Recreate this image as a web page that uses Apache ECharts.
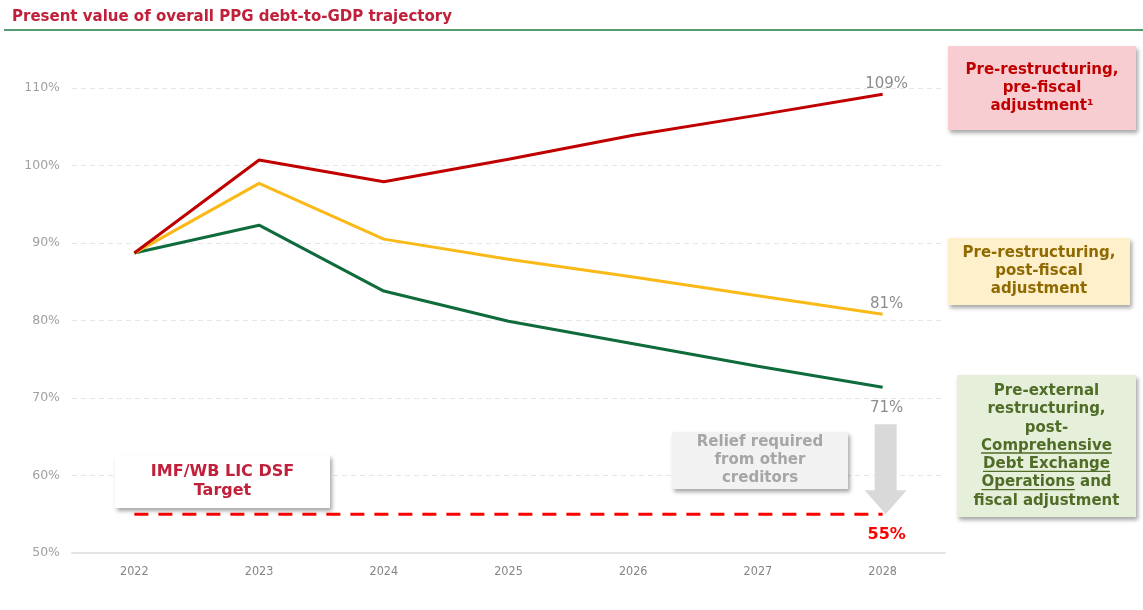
<!DOCTYPE html>
<html><head><meta charset="utf-8">
<script src="https://cdn.jsdelivr.net/npm/echarts@6/dist/echarts.min.js"></script>
<style>html,body{margin:0;padding:0;background:#fff}#c{width:1143px;height:610px}</style>
</head><body><div id="c"></div>
<script>
const years = ['2022','2023','2024','2025','2026','2027','2028'];
const preRestructPreFiscal = [88.7, 100.7, 97.9, 100.8, 103.9, 106.5, 109.2];
const preRestructPostFiscal = [88.7, 97.7, 90.5, 87.9, 85.6, 83.2, 80.8];
const postCDEOFiscal = [88.7, 92.3, 83.8, 79.9, 77.0, 74.1, 71.4];
const dsfTarget = [55, 55, 55, 55, 55, 55, 55];
const yTicks = {min: 50, max: 110, interval: 10};

const FONT = 'DejaVu Sans';
const chart = echarts.init(document.getElementById('c'));

function lastLabel(arr, pos, dist, color, bold, size) {
  return arr.map((v, i) => i === arr.length - 1 ? {
    value: v,
    label: {show: true, position: pos, distance: dist, offset: [4, 0], formatter: Math.round(v) + '%',
      color: color, fontFamily: FONT, fontSize: size, fontWeight: bold ? 'bold' : 'normal'}
  } : v);
}
function lineSeries(name, data, color, dash, z) {
  return {type: 'line', name: name, data: data, symbol: 'circle', symbolSize: 0, showSymbol: true,
    itemStyle: {color: color}, lineStyle: {color: color, width: 3, type: dash || 'solid'}, z: z};
}

const option = {
  animation: false,
  grid: {left: 72, right: 198, top: 88, bottom: 57},
  xAxis: {
    type: 'category', data: years, boundaryGap: true,
    axisLine: {lineStyle: {color: '#e4e4e4', width: 2}},
    axisTick: {show: false},
    axisLabel: {color: '#858585', fontFamily: 'DejaVu Sans Condensed', fontSize: 12.5, margin: 12}
  },
  yAxis: {
    type: 'value', min: yTicks.min, max: yTicks.max, interval: yTicks.interval,
    axisLine: {show: false}, axisTick: {show: false},
    axisLabel: {formatter: '{value}%', color: '#a0a0a0', fontFamily: FONT, fontSize: 12.5, margin: 12},
    splitLine: {lineStyle: {color: '#e6e6e6', type: [5, 4], width: 1}}
  },
  series: [
    lineSeries('DSF target', lastLabel(dsfTarget, 'bottom', 13, '#ff0000', true, 16), '#ff0000', [14, 10], 2),
    lineSeries('Pre-external restructuring, post-CDEO and fiscal adjustment', lastLabel(postCDEOFiscal, 'bottom', 13, '#8c8c8c', false, 15), '#0f6b3b', null, 3),
    lineSeries('Pre-restructuring, post-fiscal adjustment', lastLabel(preRestructPostFiscal, 'top', 3, '#8c8c8c', false, 15), '#fbb917', null, 4),
    lineSeries('Pre-restructuring, pre-fiscal adjustment', lastLabel(preRestructPreFiscal, 'top', 3, '#8c8c8c', false, 15), '#c00000', null, 5)
  ]
};
chart.setOption(option);

// Annotations
const arrTop = chart.convertToPixel({xAxisIndex: 0, yAxisIndex: 0}, [6, 66.6]);
const arrBot = chart.convertToPixel({xAxisIndex: 0, yAxisIndex: 0}, [6, 55]);
const ax = arrTop[0] + 3;
const shadow = {shadowColor: 'rgba(0,0,0,0.35)', shadowBlur: 4, shadowOffsetX: 2, shadowOffsetY: 3};

const mctx = document.createElement('canvas').getContext('2d');
function tw(s, font) { mctx.font = font; return mctx.measureText(s).width; }

function box(x, y, w, h, fill, text, color, lineH, size) {
  return [{
    type: 'rect', shape: {x: x, y: y, width: w, height: h},
    style: Object.assign({fill: fill}, shadow), z: 10
  }, {
    type: 'text', z: 11, x: x + w / 2, y: y + h / 2,
    style: {text: text, fill: color, font: 'bold ' + size + 'px "' + FONT + '"', align: 'center', verticalAlign: 'middle',
      lineHeight: lineH}
  }];
}

// green box with underlined words
const gb = {x: 957, y: 375, w: 179, h: 142, lh: 18.3};
const gLines = ['Pre-external', 'restructuring,', 'post-', 'Comprehensive', 'Debt Exchange', 'Operations and', 'fiscal adjustment'];
const gFont = 'bold 15px "' + FONT + '"';
const gcx = gb.x + gb.w / 2, gcy = gb.y + gb.h / 2;
function underline(lineIdx, part) {
  const full = gLines[lineIdx];
  const left = gcx - tw(full, gFont) / 2;
  const yy = gcy + (lineIdx - 3) * gb.lh + 7;
  return {type: 'line', z: 12, shape: {x1: left, y1: yy, x2: left + tw(part, gFont), y2: yy},
    style: {stroke: '#4f6d27', lineWidth: 1.3}};
}

const graphics = [
  {type: 'text', left: 12, top: 10, z: 20,
   style: {text: 'Present value of overall PPG debt-to-GDP trajectory', fill: '#c0203a', font: 'bold 15px "' + FONT + '"'}},
  {type: 'line', shape: {x1: 4, y1: 30, x2: 1143, y2: 30}, style: {stroke: '#1e7b45', lineWidth: 1.5}, z: 20},
  {type: 'polygon', z: 6, shape: {points: [
    [ax - 11, arrTop[1]], [ax + 11, arrTop[1]], [ax + 11, arrBot[1] - 24], [ax + 21, arrBot[1] - 24],
    [ax, arrBot[1]], [ax - 21, arrBot[1] - 24], [ax - 11, arrBot[1] - 24]]},
   style: {fill: '#d9d9d9'}},
  ...box(948, 46, 188, 84, '#f7cdd2', 'Pre-restructuring,\npre-fiscal\nadjustment¹', '#c00000', 18, 15),
  ...box(948, 238, 182, 67, '#fff0cc', 'Pre-restructuring,\npost-fiscal\nadjustment', '#8f6a00', 18, 15),
  ...box(gb.x, gb.y, gb.w, gb.h, '#e6efda', gLines.join('\n'), '#4f6d27', gb.lh, 15),
  ...box(672, 432, 176, 57, '#f2f2f2', 'Relief required\nfrom other\ncreditors', '#a6a6a6', 18, 15),
  ...box(115, 455, 215, 53, '#ffffff', 'IMF/WB LIC DSF\nTarget', '#c0203a', 19, 16),
  underline(3, 'Comprehensive'),
  underline(4, 'Debt Exchange'),
  underline(5, 'Operations')
];
chart.setOption({graphic: graphics});
</script></body></html>
